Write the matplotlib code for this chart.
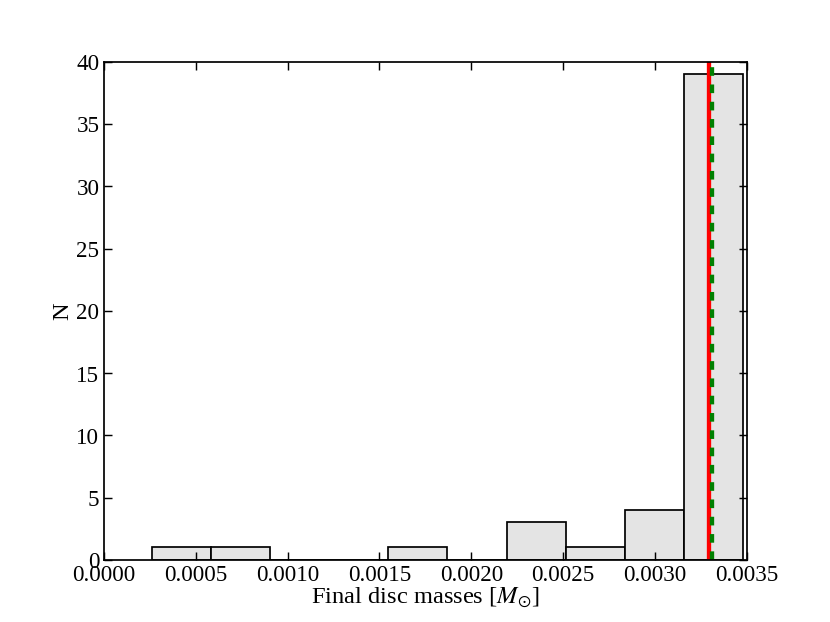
import matplotlib
matplotlib.use("Agg")
import matplotlib.pyplot as plt
import numpy as np

# Histogram data
bin_edges = [0.000261, 0.000583, 0.000905, 0.001226, 0.001548, 0.001870,
             0.002192, 0.002514, 0.002835, 0.003157, 0.003479]
counts = [1, 1, 0, 0, 1, 0, 3, 1, 4, 39]
red_line_x = 0.003295
green_line_x = 0.003307
xticks = [0.0000, 0.0005, 0.0010, 0.0015, 0.0020, 0.0025, 0.0030, 0.0035]
yticks = [0, 5, 10, 15, 20, 25, 30, 35, 40]

plt.rcParams['font.family'] = ['Liberation Serif', 'DejaVu Serif']
plt.rcParams['mathtext.fontset'] = 'stix'

fig = plt.figure(figsize=(8, 6), dpi=103.75)
ax = fig.add_axes([0.125, 0.1, 0.775, 0.8])

left = np.array(bin_edges[:-1])
widths = np.diff(bin_edges)
ax.bar(left, counts, width=widths, align='edge', color='#e4e4e4',
       edgecolor='black', linewidth=1.2)

ax.axvline(red_line_x, color='red', linewidth=3)
ax.axvline(green_line_x, color='green', linewidth=3, dashes=(2, 2))

ax.set_xlim(0, 0.0035)
ax.set_ylim(0, 40)
ax.set_xticks(xticks)
ax.set_xticklabels([f"{v:.4f}" for v in xticks])
ax.set_yticks(yticks)
ax.set_yticklabels([str(v) for v in yticks])

ax.tick_params(direction='in', top=True, right=True, length=5.5, width=1,
               labelsize=16, pad=3)
for s in ax.spines.values():
    s.set_linewidth(1.2)

ax.set_xlabel(r'Final disc masses [$M_{\odot}$]', fontsize=17, labelpad=0)
ax.set_ylabel('N', fontsize=17, labelpad=2)

fig.savefig('out.png', dpi=103.75)
